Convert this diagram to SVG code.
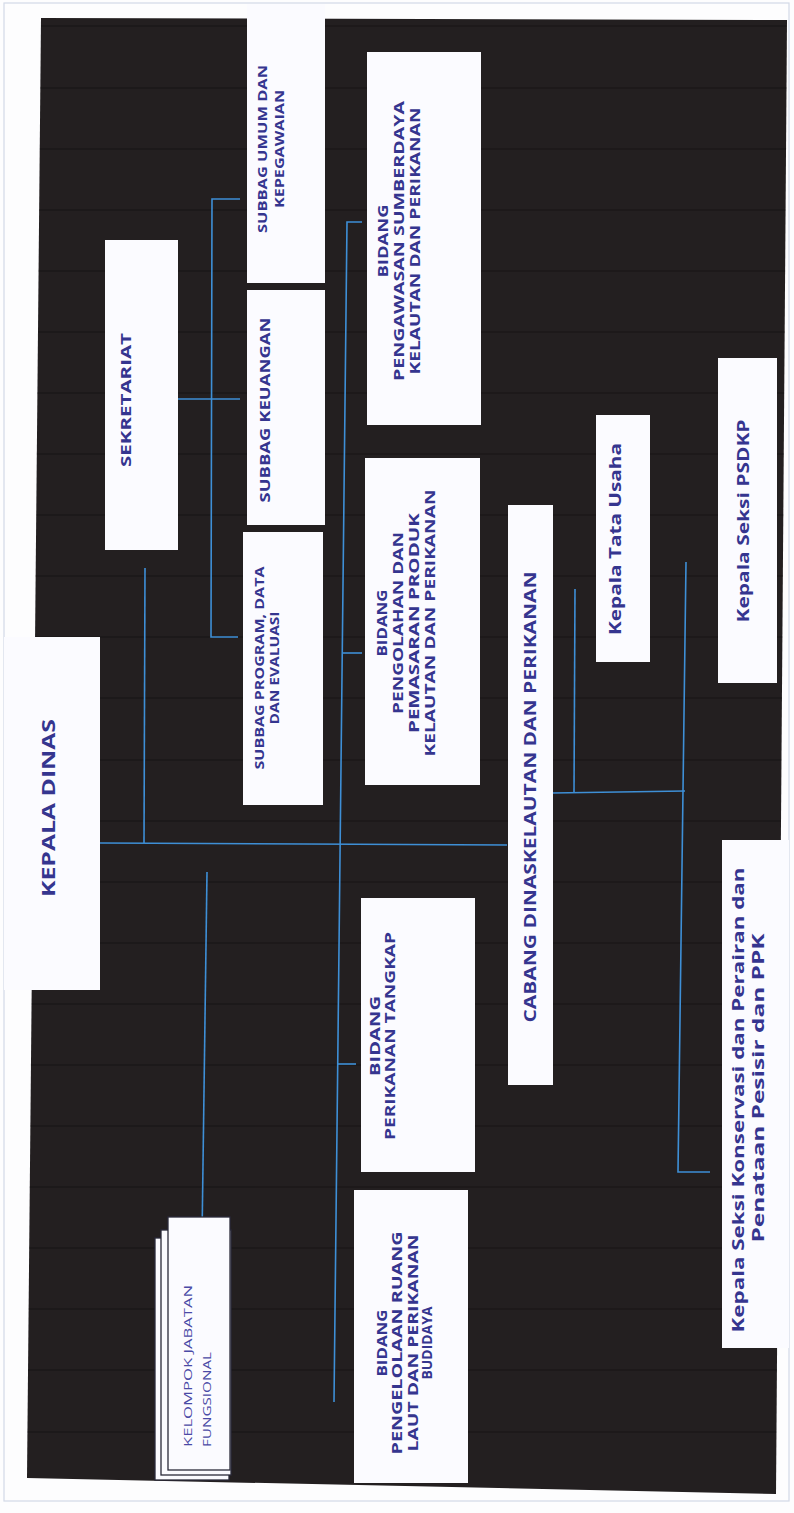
<svg xmlns="http://www.w3.org/2000/svg" width="794" height="1513" viewBox="0 0 794 1513">
  <style>
    .page { fill: #fdfdfe; }
    .frame { fill: none; stroke: #d3d9e6; stroke-width: 1.2; }
    .ground { fill: #231f20; }
    .scan { stroke: #0b0909; stroke-width: 1.2; opacity: 0.45; }
    .box { fill: #fbfbff; }
    .stack { fill: #fbfbff; stroke: #2a2a3a; stroke-width: 1.3; }
    .t { font-family: "Open Sans", "Liberation Sans", sans-serif; font-weight: 700; fill: #35358f; text-anchor: middle; }
    .lite { font-family: "Open Sans", "Liberation Sans", sans-serif; font-weight: 400; fill: #4a4aa6; text-anchor: start; }
    .conn { stroke: #3e8fd6; stroke-width: 1.6; fill: none; }
  </style>
  <defs>
    <clipPath id="groundClip">
      <polygon points="41,18 787,20 776,1494 27,1478"/>
    </clipPath>
  </defs>

  <!-- paper and its faint frame -->
  <rect class="page" x="0" y="0" width="794" height="1513"/>
  <rect class="frame" x="4" y="3" width="785" height="1498"/>

  <!-- dark backdrop of the chart -->
  <polygon class="ground" points="41,18 787,20 776,1494 27,1478"/>

  <!-- horizontal scan banding, kept inside the backdrop -->
  <g id="banding" clip-path="url(#groundClip)">
    <line class="scan" x1="20" y1="26" x2="790" y2="26"/>
    <line class="scan" x1="20" y1="88" x2="790" y2="88"/>
    <line class="scan" x1="20" y1="149" x2="790" y2="149"/>
    <line class="scan" x1="20" y1="210" x2="790" y2="210"/>
    <line class="scan" x1="20" y1="271" x2="790" y2="271"/>
    <line class="scan" x1="20" y1="332" x2="790" y2="332"/>
    <line class="scan" x1="20" y1="393" x2="790" y2="393"/>
    <line class="scan" x1="20" y1="454" x2="790" y2="454"/>
    <line class="scan" x1="20" y1="515" x2="790" y2="515"/>
    <line class="scan" x1="20" y1="576" x2="790" y2="576"/>
    <line class="scan" x1="20" y1="637" x2="790" y2="637"/>
    <line class="scan" x1="20" y1="698" x2="790" y2="698"/>
    <line class="scan" x1="20" y1="760" x2="790" y2="760"/>
    <line class="scan" x1="20" y1="821" x2="790" y2="821"/>
    <line class="scan" x1="20" y1="882" x2="790" y2="882"/>
    <line class="scan" x1="20" y1="943" x2="790" y2="943"/>
    <line class="scan" x1="20" y1="1004" x2="790" y2="1004"/>
    <line class="scan" x1="20" y1="1065" x2="790" y2="1065"/>
    <line class="scan" x1="20" y1="1126" x2="790" y2="1126"/>
    <line class="scan" x1="20" y1="1187" x2="790" y2="1187"/>
    <line class="scan" x1="20" y1="1248" x2="790" y2="1248"/>
    <line class="scan" x1="20" y1="1309" x2="790" y2="1309"/>
    <line class="scan" x1="20" y1="1370" x2="790" y2="1370"/>
    <line class="scan" x1="20" y1="1432" x2="790" y2="1432"/>
  </g>

  <!-- connectors -->
  <g id="connectors">
    <!-- main trunk from Kepala Dinas to Cabang -->
    <line class="conn" x1="100" y1="843" x2="507" y2="845"/>
    <!-- Sekretariat riser -->
    <line class="conn" x1="145" y1="568" x2="144" y2="843"/>
    <!-- Sekretariat to its subbag bus -->
    <line class="conn" x1="178" y1="399" x2="240" y2="399"/>
    <polyline class="conn" points="240,199 212,199 211,637 238,637"/>
    <!-- bidang bus -->
    <polyline class="conn" points="362,222 347,222 334,1402"/>
    <line class="conn" x1="342" y1="653" x2="362" y2="653"/>
    <line class="conn" x1="338" y1="1064" x2="356" y2="1064"/>
    <!-- kelompok jabatan fungsional drop -->
    <line class="conn" x1="207" y1="872" x2="202" y2="1238"/>
    <!-- cabang branch -->
    <line class="conn" x1="552" y1="793" x2="685" y2="791"/>
    <line class="conn" x1="575" y1="589" x2="574" y2="793"/>
    <polyline class="conn" points="686,562 678,1172 710,1172"/>
  </g>

  <g id="kepala-dinas">
    <rect class="box" x="4" y="637" width="96" height="353"/>
    <text class="t" font-size="18" textLength="178" lengthAdjust="spacingAndGlyphs" dy="0.35em" transform="translate(49,808) rotate(-90)">KEPALA DINAS</text>
  </g>

  <g id="sekretariat">
    <rect class="box" x="105" y="240" width="73" height="310"/>
    <text class="t" font-size="15" textLength="134" lengthAdjust="spacingAndGlyphs" dy="0.35em" transform="translate(126,400) rotate(-90)">SEKRETARIAT</text>
  </g>

  <g id="subbag-umum">
    <rect class="box" x="247" y="4" width="78" height="279"/>
    <text class="t" font-size="12" textLength="168" lengthAdjust="spacingAndGlyphs" dy="0.35em" transform="translate(263,149) rotate(-90)">SUBBAG UMUM DAN</text>
    <text class="t" font-size="12" textLength="118" lengthAdjust="spacingAndGlyphs" dy="0.35em" transform="translate(280,149) rotate(-90)">KEPEGAWAIAN</text>
  </g>

  <g id="subbag-keuangan">
    <rect class="box" x="247" y="290" width="78" height="235"/>
    <text class="t" font-size="14" textLength="185" lengthAdjust="spacingAndGlyphs" dy="0.35em" transform="translate(265,410) rotate(-90)">SUBBAG KEUANGAN</text>
  </g>

  <g id="subbag-program">
    <rect class="box" x="243" y="532" width="80" height="273"/>
    <text class="t" font-size="12" textLength="203" lengthAdjust="spacingAndGlyphs" dy="0.35em" transform="translate(260,668) rotate(-90)">SUBBAG PROGRAM, DATA</text>
    <text class="t" font-size="12" textLength="113" lengthAdjust="spacingAndGlyphs" dy="0.35em" transform="translate(275,668) rotate(-90)">DAN EVALUASI</text>
  </g>

  <g id="bidang-pengawasan">
    <rect class="box" x="367" y="52" width="114" height="373"/>
    <text class="t" font-size="13.5" textLength="73" lengthAdjust="spacingAndGlyphs" dy="0.35em" transform="translate(383,241) rotate(-90)">BIDANG</text>
    <text class="t" font-size="13.5" textLength="280" lengthAdjust="spacingAndGlyphs" dy="0.35em" transform="translate(399,241) rotate(-90)">PENGAWASAN SUMBERDAYA</text>
    <text class="t" font-size="13.5" textLength="267" lengthAdjust="spacingAndGlyphs" dy="0.35em" transform="translate(415,241) rotate(-90)">KELAUTAN DAN PERIKANAN</text>
  </g>

  <g id="bidang-pengolahan">
    <rect class="box" x="365" y="458" width="115" height="327"/>
    <text class="t" font-size="13.5" textLength="67" lengthAdjust="spacingAndGlyphs" dy="0.35em" transform="translate(382,623) rotate(-90)">BIDANG</text>
    <text class="t" font-size="13.5" textLength="182" lengthAdjust="spacingAndGlyphs" dy="0.35em" transform="translate(398,623) rotate(-90)">PENGOLAHAN DAN</text>
    <text class="t" font-size="13.5" textLength="220" lengthAdjust="spacingAndGlyphs" dy="0.35em" transform="translate(414,623) rotate(-90)">PEMASARAN PRODUK</text>
    <text class="t" font-size="13.5" textLength="267" lengthAdjust="spacingAndGlyphs" dy="0.35em" transform="translate(430,623) rotate(-90)">KELAUTAN DAN PERIKANAN</text>
  </g>

  <g id="bidang-tangkap">
    <rect class="box" x="361" y="898" width="114" height="274"/>
    <text class="t" font-size="13.5" textLength="80" lengthAdjust="spacingAndGlyphs" dy="0.35em" transform="translate(375,1036) rotate(-90)">BIDANG</text>
    <text class="t" font-size="13.5" textLength="208" lengthAdjust="spacingAndGlyphs" dy="0.35em" transform="translate(390,1036) rotate(-90)">PERIKANAN TANGKAP</text>
  </g>

  <g id="bidang-pengelolaan">
    <rect class="box" x="354" y="1190" width="114" height="293"/>
    <text class="t" font-size="13.5" textLength="67" lengthAdjust="spacingAndGlyphs" dy="0.35em" transform="translate(382,1343) rotate(-90)">BIDANG</text>
    <text class="t" font-size="13.5" textLength="223" lengthAdjust="spacingAndGlyphs" dy="0.35em" transform="translate(397,1343) rotate(-90)">PENGELOLAAN RUANG</text>
    <text class="t" font-size="13.5" textLength="217" lengthAdjust="spacingAndGlyphs" dy="0.35em" transform="translate(413,1343) rotate(-90)">LAUT DAN PERIKANAN</text>
    <text class="t" font-size="13.5" textLength="73" lengthAdjust="spacingAndGlyphs" dy="0.35em" transform="translate(427,1343) rotate(-90)">BUDIDAYA</text>
  </g>

  <g id="kelompok-jabatan">
    <rect class="stack" x="155" y="1238" width="74" height="242"/>
    <rect class="stack" x="161" y="1230" width="70" height="245"/>
    <rect class="stack" x="168" y="1217" width="62" height="253"/>
    <text class="lite" font-size="11" textLength="162" lengthAdjust="spacingAndGlyphs" dy="0.35em" transform="translate(188,1447) rotate(-90)">KELOMPOK JABATAN</text>
    <text class="lite" font-size="11" textLength="95" lengthAdjust="spacingAndGlyphs" dy="0.35em" transform="translate(207,1447) rotate(-90)">FUNGSIONAL</text>
  </g>

  <g id="cabang-dinas">
    <rect class="box" x="508" y="505" width="45" height="580"/>
    <text class="t" font-size="16" textLength="451" lengthAdjust="spacingAndGlyphs" dy="0.35em" transform="translate(530,797) rotate(-90)">CABANG DINASKELAUTAN DAN PERIKANAN</text>
  </g>

  <g id="kepala-tata-usaha">
    <rect class="box" x="596" y="415" width="54" height="247"/>
    <text class="t" font-size="16" textLength="192" lengthAdjust="spacingAndGlyphs" dy="0.3em" transform="translate(616,539) rotate(-90)">Kepala Tata Usaha</text>
  </g>

  <g id="kepala-seksi-psdkp">
    <rect class="box" x="718" y="358" width="59" height="325"/>
    <text class="t" font-size="16" textLength="203" lengthAdjust="spacingAndGlyphs" dy="0.3em" transform="translate(744,521) rotate(-90)">Kepala Seksi PSDKP</text>
  </g>

  <g id="kepala-seksi-konservasi">
    <rect class="box" x="722" y="840" width="67" height="508"/>
    <text class="t" font-size="16" textLength="465" lengthAdjust="spacingAndGlyphs" dy="0.3em" transform="translate(739,1100) rotate(-90)">Kepala Seksi Konservasi dan Perairan dan</text>
    <text class="t" font-size="16" textLength="309" lengthAdjust="spacingAndGlyphs" dy="0.3em" transform="translate(759,1088) rotate(-90)">Penataan Pesisir dan PPK</text>
  </g>
</svg>
